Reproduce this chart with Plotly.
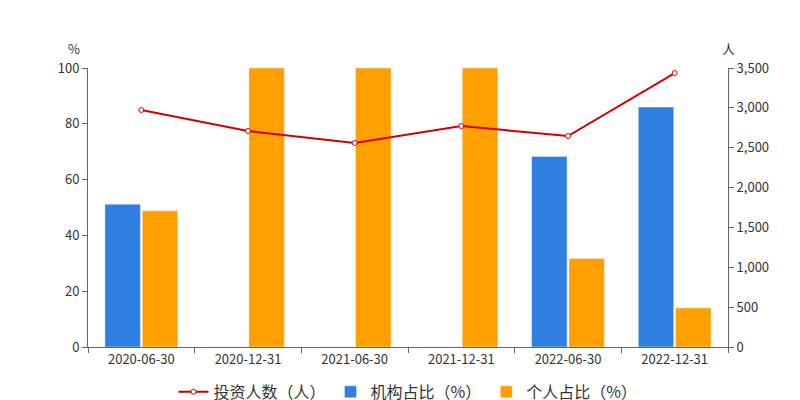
import plotly.graph_objects as go

dates = ["2020-06-30", "2020-12-31", "2021-06-30", "2021-12-31", "2022-06-30", "2022-12-31"]
investors = [2973, 2710, 2559, 2772, 2647, 3437]
inst_pct = [51.2, 0, 0, 0, 68.3, 86.0]
indiv_pct = [48.8, 100, 100, 100, 31.7, 14.0]

fig = go.Figure()
fig.add_trace(go.Scatter(x=dates, y=investors, name="投资人数（人）", yaxis="y2", mode="lines+markers",
                         line=dict(color="#d40000", width=2),
                         marker=dict(size=5, color="white", line=dict(color="#d40000", width=1))))
fig.add_trace(go.Bar(x=dates, y=inst_pct, name="机构占比（%）", marker_color="#2e7fe0"))
fig.add_trace(go.Bar(x=dates, y=indiv_pct, name="个人占比（%）", marker_color="#ff9f00"))
fig.update_layout(
    width=800, height=400, margin=dict(l=80, r=80, t=60, b=61, autoexpand=False),
    plot_bgcolor="white", paper_bgcolor="white",
    font=dict(family="Noto Sans CJK SC", size=13, color="#333"),
    bargap=0.3, bargroupgap=0.05,
    xaxis=dict(type="category", showline=True, linecolor="#666", ticks="outside", ticklen=5,
               tickcolor="#666", tickson="boundaries", automargin=False),
    yaxis=dict(range=[0, 100], dtick=20, showgrid=False, showline=True, linecolor="#666",
               ticks="outside", tickcolor="#666", zeroline=False, automargin=False),
    yaxis2=dict(range=[0, 3500], dtick=500, overlaying="y", side="right", showgrid=False,
                showline=True, linecolor="#666", ticks="outside", tickcolor="#666",
                tickformat=",", zeroline=False, automargin=False),
    legend=dict(orientation="h", x=0.5, xanchor="center", y=-0.1, yanchor="top",
                traceorder="normal", font=dict(size=16)),
    annotations=[
        dict(text="%", xref="paper", yref="paper", x=-0.01, y=1.03, xanchor="right", yanchor="bottom", showarrow=False),
        dict(text="人", xref="paper", yref="paper", x=1.0, y=1.03, xanchor="center", yanchor="bottom", showarrow=False),
    ],
)
fig.write_html("out.html")
